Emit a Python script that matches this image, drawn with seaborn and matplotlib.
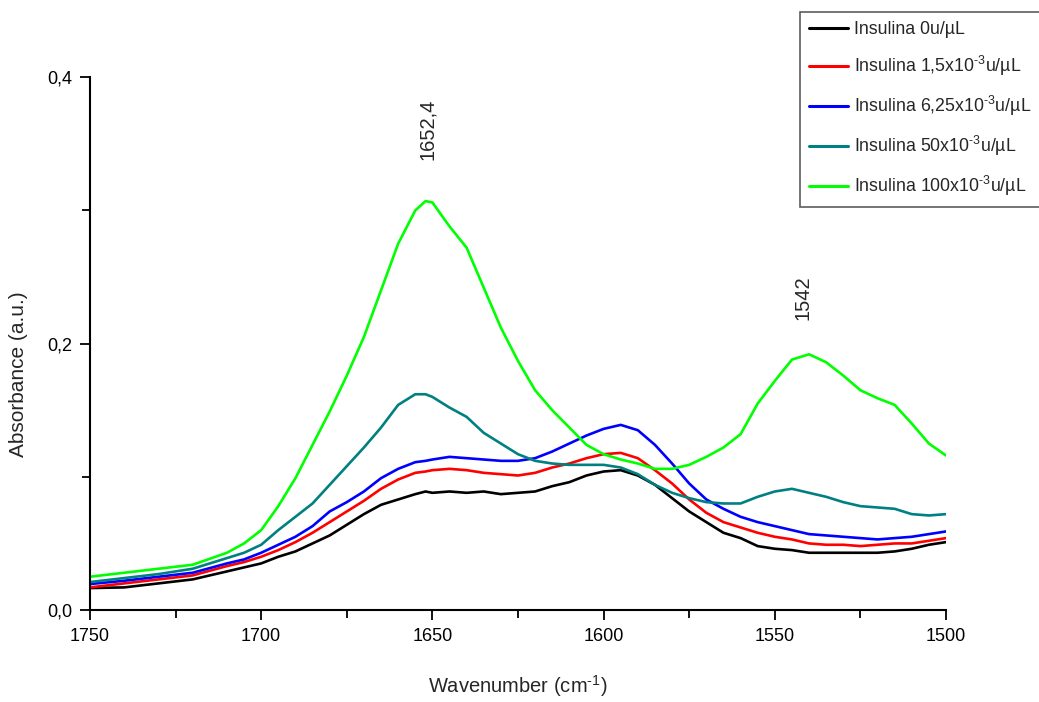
import numpy as np
import pandas as pd
import seaborn as sns
import matplotlib.pyplot as plt
from matplotlib.ticker import MultipleLocator, FuncFormatter

# wavenumber grid (cm-1)
wavenumber = [1750, 1740, 1730, 1720, 1710, 1705, 1700, 1695, 1690, 1685, 1680, 1675,
              1670, 1665, 1660, 1655, 1652, 1650, 1645, 1640, 1635, 1630, 1625, 1620,
              1615, 1610, 1605, 1600, 1595, 1590, 1585, 1580, 1575, 1570, 1565, 1560,
              1555, 1550, 1545, 1540, 1535, 1530, 1525, 1520, 1515, 1510, 1505, 1500]

ins_0 = [0.0165, 0.017, 0.020, 0.023, 0.029, 0.032, 0.035, 0.040, 0.044, 0.050, 0.056, 0.064,
         0.072, 0.079, 0.083, 0.087, 0.089, 0.088, 0.089, 0.088, 0.089, 0.087, 0.088, 0.089,
         0.093, 0.096, 0.101, 0.104, 0.105, 0.101, 0.094, 0.084, 0.074, 0.066, 0.058, 0.054,
         0.048, 0.046, 0.045, 0.043, 0.043, 0.043, 0.043, 0.043, 0.044, 0.046, 0.049, 0.051]

ins_1_5 = [0.017, 0.020, 0.023, 0.026, 0.033, 0.036, 0.040, 0.045, 0.051, 0.058, 0.066, 0.074,
           0.082, 0.091, 0.098, 0.103, 0.104, 0.105, 0.106, 0.105, 0.103, 0.102, 0.101, 0.103,
           0.107, 0.110, 0.114, 0.117, 0.118, 0.114, 0.105, 0.095, 0.083, 0.073, 0.066, 0.062,
           0.058, 0.055, 0.053, 0.050, 0.049, 0.049, 0.048, 0.049, 0.050, 0.050, 0.052, 0.054]

ins_6_25 = [0.0195, 0.022, 0.025, 0.028, 0.035, 0.038, 0.043, 0.049, 0.055, 0.063, 0.074, 0.081,
            0.089, 0.099, 0.106, 0.111, 0.112, 0.113, 0.115, 0.114, 0.113, 0.112, 0.112, 0.114,
            0.119, 0.125, 0.131, 0.136, 0.139, 0.135, 0.124, 0.110, 0.095, 0.083, 0.076, 0.070,
            0.066, 0.063, 0.060, 0.057, 0.056, 0.055, 0.054, 0.053, 0.054, 0.055, 0.057, 0.059]

ins_50 = [0.021, 0.024, 0.027, 0.031, 0.039, 0.043, 0.049, 0.060, 0.070, 0.080, 0.094, 0.108,
          0.122, 0.137, 0.154, 0.162, 0.162, 0.160, 0.152, 0.145, 0.133, 0.125, 0.117, 0.112,
          0.110, 0.109, 0.109, 0.109, 0.107, 0.102, 0.094, 0.088, 0.084, 0.081, 0.080, 0.080,
          0.085, 0.089, 0.091, 0.088, 0.085, 0.081, 0.078, 0.077, 0.076, 0.072, 0.071, 0.072]

ins_100 = [0.025, 0.028, 0.031, 0.034, 0.043, 0.050, 0.060, 0.078, 0.099, 0.124, 0.149, 0.176,
           0.205, 0.240, 0.275, 0.300, 0.307, 0.306, 0.288, 0.272, 0.242, 0.212, 0.187, 0.165,
           0.150, 0.137, 0.124, 0.117, 0.113, 0.110, 0.106, 0.106, 0.109, 0.115, 0.122, 0.132,
           0.155, 0.172, 0.188, 0.192, 0.186, 0.176, 0.165, 0.159, 0.154, 0.140, 0.125, 0.116]

labels = ["Insulina 0u/µL",
          r"Insulina 1,5x10$^{\text{-3}}$u/µL",
          r"Insulina 6,25x10$^{\text{-3}}$u/µL",
          r"Insulina 50x10$^{\text{-3}}$u/µL",
          r"Insulina 100x10$^{\text{-3}}$u/µL"]
cores = ["#000000", "#FF0000", "#0000FF", "#008080", "#00FF00"]

series = [ins_0, ins_1_5, ins_6_25, ins_50, ins_100]
frames = []
for lab, vals in zip(labels, series):
    frames.append(pd.DataFrame({"Wavenumber": wavenumber, "Absorbance": vals, "Amostra": lab}))
df = pd.concat(frames, ignore_index=True)

sns.set_style("ticks")
plt.rcParams['font.family'] = ['Liberation Sans', 'DejaVu Sans']
plt.rcParams['mathtext.fontset'] = 'custom'
plt.rcParams['mathtext.rm'] = 'Liberation Sans'
plt.rcParams['mathtext.it'] = 'Liberation Sans'

fig = plt.figure(figsize=(10.39, 7.02), dpi=100)
ax = fig.add_axes([0.0866, 0.131, 0.8239, 0.759])

sns.lineplot(data=df, x="Wavenumber", y="Absorbance", hue="Amostra",
             palette=dict(zip(labels, cores)), linewidth=1.9, ax=ax, legend=False, sort=False)

ax.set_xlim(1750, 1500)
ax.set_ylim(0, 0.4)
ax.xaxis.set_major_locator(MultipleLocator(50))
ax.xaxis.set_minor_locator(MultipleLocator(25))
ax.yaxis.set_major_locator(MultipleLocator(0.2))
ax.yaxis.set_minor_locator(MultipleLocator(0.1))
ax.yaxis.set_major_formatter(FuncFormatter(lambda v, p: f"{v:.1f}".replace(".", ",")))
ax.tick_params(which="both", direction="out", width=1.3, labelsize=13, colors="black")
ax.tick_params(which="major", length=7, pad=6)
ax.tick_params(which="minor", length=6)
for s in ["top", "right"]:
    ax.spines[s].set_visible(False)
for s in ["left", "bottom"]:
    ax.spines[s].set_linewidth(1.5)
    ax.spines[s].set_color("black")

ax.set_xlabel(r"Wavenumber (cm$^{\text{-1}}$)", fontsize=14.5)
ax.xaxis.set_label_coords(0.5, -0.118)
ax.set_ylabel("Absorbance (a.u.)", fontsize=15)
ax.yaxis.set_label_coords(-0.072, 0.443)

ax.text(1651.3, 0.338, "1652,4", rotation=90, fontsize=14.5, ha="center", va="bottom")
ax.text(1541.8, 0.218, "1542", rotation=90, fontsize=14.5, ha="center", va="bottom")

handles = [plt.Line2D([], [], color=c, linewidth=2.2) for c in cores]
leg = fig.legend(handles, labels, loc="upper left", bbox_to_anchor=(0.770, 0.983),
                 fontsize=12.8, frameon=True, fancybox=False, edgecolor="#333333",
                 handlelength=2.2, handletextpad=0.35, borderpad=0.5, labelspacing=0.9,
                 borderaxespad=0)
leg.get_frame().set_linewidth(1.2)

fig.savefig("out.png", dpi=100)
